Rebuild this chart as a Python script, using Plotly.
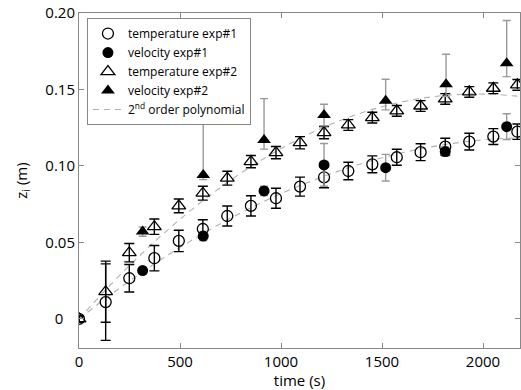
import numpy as np
import plotly.graph_objects as go

# temperature exp#1 (open circles)
t_temp1 = [0, 132, 249, 373, 494, 613, 734, 851, 975, 1094, 1213, 1333, 1452, 1573, 1691, 1813, 1932, 2051, 2170]
z_temp1 = [0.0, 0.011, 0.0266, 0.0397, 0.051, 0.0588, 0.0673, 0.0739, 0.0789, 0.0865, 0.0926, 0.0967, 0.1011, 0.1057, 0.109, 0.1126, 0.1159, 0.1192, 0.1224]
e_temp1 = [0.002, 0.025, 0.009, 0.0083, 0.007, 0.006, 0.0065, 0.0066, 0.0065, 0.0062, 0.0068, 0.0057, 0.0055, 0.0052, 0.0055, 0.0055, 0.0055, 0.0052, 0.005]

# temperature exp#2 (open triangles)
t_temp2 = [0, 132, 249, 373, 494, 613, 734, 851, 975, 1094, 1213, 1333, 1452, 1573, 1691, 1813, 1932, 2051, 2170]
z_temp2 = [0.0, 0.0178, 0.0433, 0.0603, 0.0739, 0.0822, 0.092, 0.1028, 0.1087, 0.1152, 0.1218, 0.1268, 0.1316, 0.136, 0.1392, 0.1438, 0.1484, 0.1508, 0.153]
e_temp2 = [0.002, 0.02, 0.006, 0.005, 0.0045, 0.0045, 0.0045, 0.004, 0.004, 0.004, 0.004, 0.0035, 0.0035, 0.0035, 0.0035, 0.0035, 0.0035, 0.0035, 0.0035]

# velocity exp#1 (filled circles)
t_vel1 = [315, 615, 916, 1213, 1518, 1813, 2117]
z_vel1 = [0.0316, 0.0542, 0.0837, 0.1007, 0.0989, 0.1094, 0.1257]
e_vel1_up = [0.002, 0.003, 0.003, 0.014, 0.0087, 0.003, 0.0084]
e_vel1_dn = [0.002, 0.003, 0.003, 0.014, 0.0087, 0.003, 0.0084]

# velocity exp#2 (filled triangles)
t_vel2 = [315, 615, 916, 1213, 1518, 1817, 2117]
z_vel2 = [0.0571, 0.0941, 0.117, 0.1333, 0.1427, 0.1534, 0.1671]
e_vel2_up = [0.003, 0.0355, 0.027, 0.007, 0.014, 0.0196, 0.028]
e_vel2_dn = [0.003, 0.003, 0.006, 0.007, 0.006, 0.008, 0.0087]

x_ticks = [0, 500, 1000, 1500, 2000]
y_ticks = [0, 0.05, 0.10, 0.15, 0.20]
y_tick_text = ["0\u00a0\u00a0\u00a0", "0.05", "0.10", "0.15", "0.20"]

FONT = "Open Sans"
fig = go.Figure()

# 2nd order polynomial fits (through the origin) of the temperature series
for tt, zz in [(t_temp1, z_temp1), (t_temp2, z_temp2)]:
    tf = np.array(tt, dtype=float)
    A = np.vstack([tf ** 2, tf]).T
    coef, *_ = np.linalg.lstsq(A, np.array(zz), rcond=None)
    fig.add_trace(go.Scatter(x=tf, y=A @ coef, mode="lines",
                             line=dict(color="#b0b0b0", width=1.1, dash="6px,5px"),
                             showlegend=False, hoverinfo="skip"))

fig.add_trace(go.Scatter(
    x=t_temp1, y=z_temp1, mode="markers", name="temperature exp#1",
    marker=dict(symbol="circle-open", size=11, color="black", line=dict(width=1.3)),
    error_y=dict(type="data", array=e_temp1, color="black", thickness=1.4, width=5)))
fig.add_trace(go.Scatter(
    x=t_vel1, y=z_vel1, mode="markers", name="velocity exp#1",
    marker=dict(symbol="circle", size=11, color="black"),
    error_y=dict(type="data", array=e_vel1_up, arrayminus=e_vel1_dn, symmetric=False,
                 color="#999999", thickness=1.4, width=4)))
fig.add_trace(go.Scatter(
    x=t_temp2, y=z_temp2, mode="markers", name="temperature exp#2",
    marker=dict(symbol="triangle-up-open", size=12, color="black", line=dict(width=1.3)),
    error_y=dict(type="data", array=e_temp2, color="black", thickness=1.4, width=5)))
fig.add_trace(go.Scatter(
    x=t_vel2, y=z_vel2, mode="markers", name="velocity exp#2",
    marker=dict(symbol="triangle-up", size=12, color="black"),
    error_y=dict(type="data", array=e_vel2_up, arrayminus=e_vel2_dn, symmetric=False,
                 color="#999999", thickness=1.4, width=4)))
# legend entry for the polynomial
fig.add_trace(go.Scatter(x=[None], y=[None], mode="lines", name="2<sup>nd</sup> order polynomial",
                         line=dict(color="#b0b0b0", width=1.1, dash="6px,5px")))

fig.update_layout(
    width=521, height=390,
    margin=dict(l=79, r=1, t=13, b=42),
    plot_bgcolor="white", paper_bgcolor="white",
    font=dict(family=FONT, size=14, color="black"),
    showlegend=True,
    legend=dict(x=0.018, y=0.985, xanchor="left", yanchor="top",
                bordercolor="#888888", borderwidth=1, bgcolor="white",
                font=dict(family=FONT, size=12), tracegroupgap=0,
                itemwidth=30),
    xaxis=dict(range=[0, 2183], tickvals=x_ticks, ticks="inside", ticklen=5,
               tickcolor="#888888", showline=True, linecolor="#888888", linewidth=1,
               mirror="ticks", showgrid=False, zeroline=False,
               tickfont=dict(size=15),
               title=dict(text="time (s)", font=dict(size=15), standoff=2)),
    yaxis=dict(range=[-0.019, 0.20], tickvals=y_ticks, ticktext=y_tick_text,
               ticks="inside", ticklen=5, tickcolor="#888888",
               showline=True, linecolor="#888888", linewidth=1,
               mirror="ticks", showgrid=False, zeroline=False,
               tickfont=dict(size=15),
               title=dict(text="z<sub>i</sub> (m)", font=dict(size=15), standoff=14)),
)

fig.write_html("out.html")
